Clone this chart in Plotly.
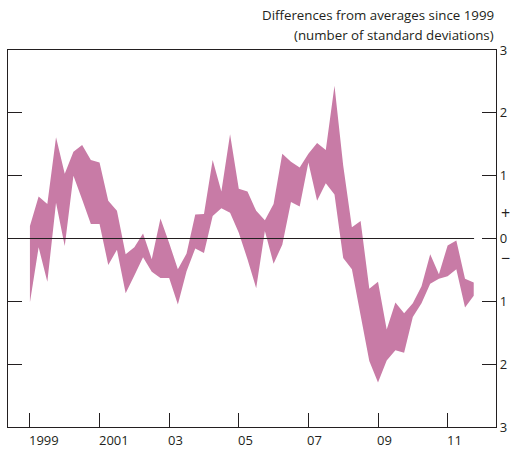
import plotly.graph_objects as go

# Quarterly observations, 1999 Q1 to 2011 Q4 (position in years)
quarters = [1999 + 0.25 * i for i in range(52)]

# Upper and lower edges of the range (standard deviations from 1999+ average)
upper = [0.20, 0.67, 0.55, 1.61, 1.03, 1.38, 1.49, 1.25, 1.21, 0.60,
         0.44, -0.25, -0.14, 0.08, -0.33, 0.32, -0.07, -0.49, -0.24, 0.38,
         0.39, 1.25, 0.75, 1.66, 0.79, 0.75, 0.44, 0.29, 0.55, 1.35,
         1.22, 1.13, 1.35, 1.52, 1.41, 2.43, 1.16, 0.18, 0.28, -0.80,
         -0.69, -1.45, -1.02, -1.19, -1.03, -0.76, -0.25, -0.57, -0.11, -0.03,
         -0.64, -0.70]
lower = [-1.02, -0.14, -0.69, 0.57, -0.12, 1.00, 0.62, 0.23, 0.23, -0.42,
         -0.18, -0.87, -0.59, -0.30, -0.53, -0.63, -0.63, -1.05, -0.52, -0.16,
         -0.23, 0.36, 0.48, 0.41, 0.09, -0.33, -0.79, 0.12, -0.40, -0.10,
         0.58, 0.51, 1.21, 0.60, 0.88, 0.70, -0.31, -0.49, -1.22, -1.95,
         -2.29, -1.94, -1.78, -1.82, -1.25, -1.03, -0.72, -0.64, -0.60, -0.49,
         -1.10, -0.91]

x_tickvals = [1999, 2001, 2003, 2005, 2007, 2009, 2011]
x_ticktext = ["1999", "2001", "03", "05", "07", "09", "11"]
y_tickvals = [-3, -2, -1, 0, 1, 2, 3]
y_ticktext = ["3", "2", "1", "0", "1", "2", "3"]

band_colour = "#C87BA6"
ink = "#231F20"
font_family = "Open Sans"

fig = go.Figure()
fig.add_trace(go.Scatter(x=quarters, y=lower, mode="lines",
                         line=dict(width=0, color=band_colour),
                         hoverinfo="skip", showlegend=False))
fig.add_trace(go.Scatter(x=quarters, y=upper, mode="lines",
                         line=dict(width=0, color=band_colour),
                         fill="tonexty", fillcolor=band_colour,
                         hoverinfo="skip", showlegend=False))

x_range = [1998.37, 2012.39]

# Zero line stops just after the last observation
fig.add_shape(type="line", xref="x", yref="y",
              x0=x_range[0], x1=quarters[-1] + 0.01, y0=0, y1=0,
              line=dict(color=ink, width=1.2), layer="above")

fig.update_xaxes(range=x_range, tickvals=x_tickvals, showticklabels=False,
                 ticks="inside", ticklen=14, tickwidth=1.2, tickcolor=ink,
                 showline=True, linecolor=ink, linewidth=1.2, mirror=True,
                 showgrid=False, zeroline=False)
fig.update_yaxes(range=[-3, 3], tickvals=y_tickvals, ticktext=y_ticktext,
                 side="right", ticks="inside", ticklen=14, tickwidth=1.2,
                 tickcolor=ink, showline=True, linecolor=ink, linewidth=1.2,
                 mirror="ticks", showgrid=False, zeroline=False,
                 tickfont=dict(family=font_family, size=13, color=ink))

# Year labels start at their tick mark
for xv, label in zip(x_tickvals, x_ticktext):
    fig.add_annotation(text=label, xref="x", yref="paper", x=xv, y=0,
                       xanchor="left", yanchor="top", xshift=-3, yshift=-2,
                       showarrow=False,
                       font=dict(family=font_family, size=13, color=ink))

# Sign markers either side of zero on the right-hand scale
for sign, yv in (("+", 0.40), ("\u2212", -0.31)):
    fig.add_annotation(text=sign, xref="paper", yref="y", x=1.0, y=yv,
                       xanchor="left", yanchor="middle", xshift=3,
                       showarrow=False,
                       font=dict(family=font_family, size=16, color=ink))

for text, yp in (("Differences from averages since 1999", 1.0916),
                 ("(number of standard deviations)", 1.0385)):
    fig.add_annotation(text=text, xref="paper", yref="paper", x=1.0, y=yp,
                       xanchor="right", yanchor="middle", showarrow=False,
                       font=dict(family=font_family, size=13.3, color=ink))

fig.update_layout(width=514, height=452,
                  margin=dict(l=7, r=16, t=50, b=25),
                  plot_bgcolor="white", paper_bgcolor="white")

fig.write_html("out.html")
